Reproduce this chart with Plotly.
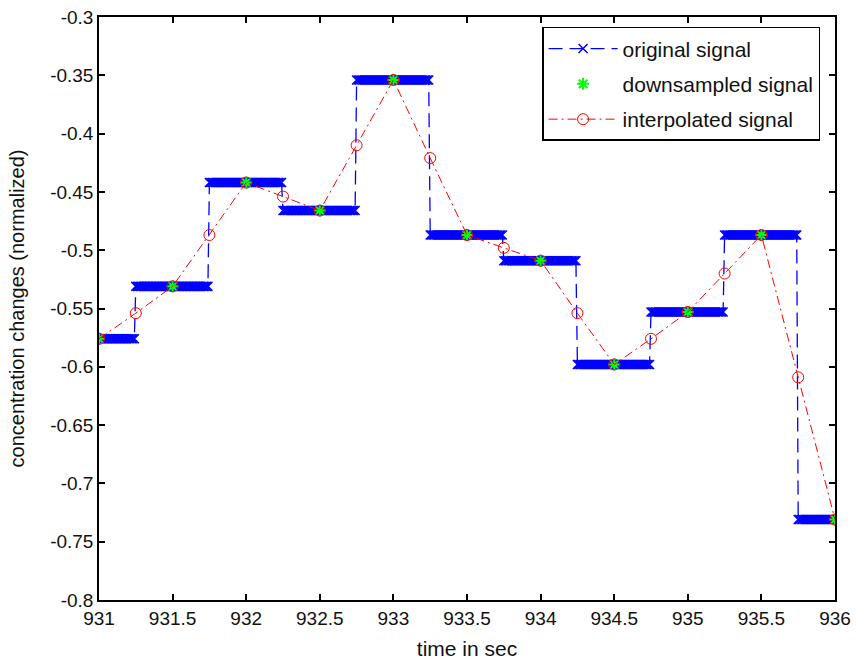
import numpy as np
import plotly.graph_objects as go

# downsampled signal (every 0.5 s)
t_down = [931.0, 931.5, 932.0, 932.5, 933.0, 933.5, 934.0, 934.5, 935.0, 935.5, 936.0]
y_down = [-0.576, -0.531, -0.442, -0.466, -0.354, -0.487, -0.509, -0.598, -0.553, -0.487, -0.731]

# interpolated signal (every 0.25 s)
t_interp = [931.0, 931.25, 931.5, 931.75, 932.0, 932.25, 932.5, 932.75, 933.0, 933.25, 933.5,
            933.75, 934.0, 934.25, 934.5, 934.75, 935.0, 935.25, 935.5, 935.75, 936.0]
y_interp = [-0.576, -0.554, -0.531, -0.487, -0.442, -0.454, -0.466, -0.410, -0.354, -0.421, -0.487,
            -0.498, -0.509, -0.554, -0.598, -0.576, -0.553, -0.520, -0.487, -0.609, -0.731]

# original signal: piecewise-constant steps (start time, end time, level)
step_start = [931.0, 931.25, 931.75, 932.25, 932.75, 933.25, 933.75, 934.25, 934.75, 935.25, 935.75]
step_end = [931.25, 931.75, 932.25, 932.75, 933.25, 933.75, 934.25, 934.75, 935.25, 935.75, 936.01]
step_level = [-0.576, -0.531, -0.442, -0.466, -0.354, -0.487, -0.509, -0.598, -0.553, -0.487, -0.731]
fs = 100  # samples per second of the original recording

t_orig = np.round(931.0 + np.arange(0, 501) / fs, 4)
y_orig = np.empty_like(t_orig)
for s, e, lv in zip(step_start, step_end, step_level):
    y_orig[(t_orig >= s - 1e-9) & (t_orig < e - 1e-9)] = lv

y_ticks = [-0.3, -0.35, -0.4, -0.45, -0.5, -0.55, -0.6, -0.65, -0.7, -0.75, -0.8]
y_ticktext = ["-0.3", "-0.35", "-0.4", "-0.45", "-0.5", "-0.55", "-0.6", "-0.65", "-0.7", "-0.75", "-0.8"]
x_ticks = [931, 931.5, 932, 932.5, 933, 933.5, 934, 934.5, 935, 935.5, 936]
x_ticktext = ["931", "931.5", "932", "932.5", "933", "933.5", "934", "934.5", "935", "935.5", "936"]

FONT = "Liberation Sans, Arial, Helvetica, sans-serif"

fig = go.Figure()
fig.add_trace(go.Scatter(
    x=t_orig, y=y_orig, mode="lines+markers", name="original signal", legendgroup="a",
    line=dict(color="#0000ff", width=1.3, dash="14px,7px"),
    marker=dict(symbol="x-thin", size=9, color="#0000ff",
                line=dict(color="#0000ff", width=1.5)),
))
fig.add_trace(go.Scatter(
    x=t_down, y=y_down, mode="markers", name="downsampled signal", legendgroup="b",
    marker=dict(symbol="asterisk", size=10, color="#00ff00",
                line=dict(color="#00ff00", width=2)),
))
fig.add_trace(go.Scatter(
    x=t_interp, y=y_interp, mode="lines+markers", name="interpolated signal", legendgroup="c",
    line=dict(color="#ff0000", width=1, dash="9px,4px,2px,4px"),
    marker=dict(symbol="circle-open", size=11, color="#ff0000",
                line=dict(color="#ff0000", width=1)),
))

axis_common = dict(
    showgrid=False, zeroline=False, showline=True, linecolor="black", linewidth=1.5,
    mirror="ticks", ticks="inside", ticklen=6, tickcolor="black", tickwidth=1.5,
    tickfont=dict(family=FONT, size=19, color="#111111"), automargin=False,
)

fig.update_layout(
    width=856, height=660,
    margin=dict(l=99, r=21, t=17, b=60),
    paper_bgcolor="white", plot_bgcolor="white",
    font=dict(family=FONT, size=19, color="#111111"),
    xaxis=dict(range=[931, 936], tickvals=x_ticks, ticktext=x_ticktext,
               title=dict(text="time in sec", font=dict(size=21), standoff=20), **axis_common),
    yaxis=dict(range=[-0.8, -0.3], tickvals=y_ticks, ticktext=y_ticktext,
               title=dict(text="concentration changes (normalized)", font=dict(size=20), standoff=20),
               **axis_common),
    legend=dict(x=0.602, y=0.983, xanchor="left", yanchor="top",
                bgcolor="white", bordercolor="black", borderwidth=1.5,
                font=dict(family=FONT, size=21, color="#111111"),
                itemwidth=69, tracegroupgap=5, traceorder="grouped"),
    showlegend=True,
)

fig.write_html("out.html")
